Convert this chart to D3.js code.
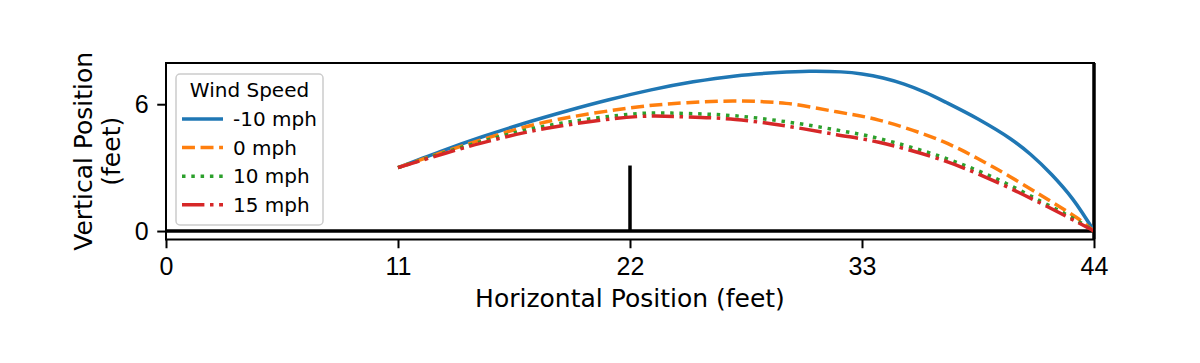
<!DOCTYPE html>
<html>
<head>
<meta charset="utf-8">
<script src="https://d3js.org/d3.v7.min.js"></script>
<style>
    body { margin: 0; background: #fff; }
    svg { font-family: "DejaVu Sans", sans-serif; }
    .axis path { display: none; }
    .axis line { stroke: #000; stroke-width: 2; }
    .axis text { font-size: 25px; fill: #000; }
</style>
</head>
<body>
<svg id="chart" width="1200" height="363"></svg>
<script>
    // wind speeds shown in the legend
    var windLabels = ["-10 mph", "0 mph", "10 mph", "15 mph"];
    var xTicks = [0, 11, 22, 33, 44];
    var yTicks = [0, 6];

    // trajectories (feet)
    var xMinus10 = [11, 13, 15, 17, 19, 21, 23, 25, 27, 29, 30.5, 32, 33, 34, 35, 36, 37, 38.5, 40, 41, 42, 43, 44];
    var yMinus10 = [3.0, 3.76, 4.46, 5.10, 5.68, 6.21, 6.68, 7.06, 7.34, 7.50, 7.56, 7.53, 7.43, 7.24, 6.95, 6.56, 6.08, 5.3, 4.39, 3.62, 2.66, 1.5, 0];

    var x0 = [11, 14.9, 18.05, 22.45, 24.7, 27, 29.4, 31.8, 33.8, 36.8, 39.2, 41.5, 43.15, 44];
    var y0 = [3.0, 4.3, 5.17, 5.88, 6.07, 6.15, 6.04, 5.64, 5.25, 4.25, 3.04, 1.68, 0.65, 0];

    var x10 = [11, 14.9, 18.05, 22.45, 24.7, 27, 29.4, 31.8, 33.8, 36.8, 39.2, 41.5, 43.15, 44];
    var y10 = [3.0, 4.22, 4.98, 5.56, 5.56, 5.45, 5.17, 4.78, 4.38, 3.5, 2.55, 1.4, 0.52, 0];

    var x15 = [11, 14.9, 18.05, 22.45, 24.7, 27, 29.4, 31.8, 33.8, 36.8, 39.2, 41.5, 43.15, 44];
    var y15 = [3.0, 4.15, 4.86, 5.42, 5.4, 5.28, 4.97, 4.56, 4.2, 3.36, 2.4, 1.3, 0.45, 0];

    var netX = 22, netHeight = 3.1, wallX = 44;

    var colors = ["#1f77b4", "#ff7f0e", "#2ca02c", "#d62728"];
    var dashes = [null, "12.95,5.6", "3.5,5.8", "22.4,5.6,3.5,5.6"];

    var series = [
        {label: windLabels[0], xs: xMinus10, ys: yMinus10},
        {label: windLabels[1], xs: x0, ys: y0},
        {label: windLabels[2], xs: x10, ys: y10},
        {label: windLabels[3], xs: x15, ys: y15}
    ];

    var x = d3.scaleLinear().domain([0, 44]).range([166, 1094]);
    var y = d3.scaleLinear().domain([-0.4, 7.95]).range([239.5, 63]);

    var svg = d3.select("#chart");

    // x axis
    svg.append("g")
        .attr("class", "axis")
        .attr("transform", "translate(0," + y.range()[0] + ")")
        .call(d3.axisBottom(x).tickValues(xTicks).tickSize(8.75).tickPadding(8.5).tickFormat(d3.format("d")));

    // y axis
    svg.append("g")
        .attr("class", "axis")
        .attr("transform", "translate(" + x.range()[0] + ",0)")
        .call(d3.axisLeft(y).tickValues(yTicks).tickSize(8.75).tickPadding(8.5).tickFormat(d3.format("d")));

    // floor, net, wall
    svg.append("line")
        .attr("x1", x(0)).attr("x2", x(44))
        .attr("y1", y(0)).attr("y2", y(0))
        .attr("stroke", "#000").attr("stroke-width", 3.5);
    svg.append("line")
        .attr("x1", x(netX)).attr("x2", x(netX))
        .attr("y1", y(0)).attr("y2", y(netHeight))
        .attr("stroke", "#000").attr("stroke-width", 3.5);
    svg.append("line")
        .attr("x1", x(wallX)).attr("x2", x(wallX))
        .attr("y1", y.range()[0]).attr("y2", y.range()[1])
        .attr("stroke", "#000").attr("stroke-width", 3.5);

    var line = d3.line()
        .x(function(d) { return x(d[0]); })
        .y(function(d) { return y(d[1]); })
        .curve(d3.curveCatmullRom.alpha(0.5));

    series.forEach(function(s, i) {
        svg.append("path")
            .datum(d3.zip(s.xs, s.ys))
            .attr("d", line)
            .attr("fill", "none")
            .attr("stroke", colors[i])
            .attr("stroke-width", 3.5)
            .attr("stroke-dasharray", dashes[i]);
    });

    // frame
    svg.append("rect")
        .attr("x", x.range()[0])
        .attr("y", y.range()[1])
        .attr("width", x.range()[1] - x.range()[0])
        .attr("height", y.range()[0] - y.range()[1])
        .attr("fill", "none")
        .attr("stroke", "#000")
        .attr("stroke-width", 2);

    // axis labels
    svg.append("text")
        .attr("x", (x.range()[0] + x.range()[1]) / 2)
        .attr("y", 307)
        .attr("text-anchor", "middle")
        .style("font-size", "25px")
        .text("Horizontal Position (feet)");

    var yl = svg.append("text")
        .attr("transform", "translate(0," + (y.range()[0] + y.range()[1]) / 2 + ") rotate(-90)")
        .attr("text-anchor", "middle")
        .style("font-size", "25px");
    yl.append("tspan").attr("x", 0).attr("y", 92).text("Vertical Position");
    yl.append("tspan").attr("x", 0).attr("y", 120).text("(feet)");

    // legend
    var legend = svg.append("g");
    legend.append("rect")
        .attr("x", 176).attr("y", 74)
        .attr("width", 147).attr("height", 151)
        .attr("rx", 4)
        .attr("fill", "#fff").attr("fill-opacity", 0.8)
        .attr("stroke", "#cccccc").attr("stroke-width", 1.5);
    legend.append("text")
        .attr("x", 249.5).attr("y", 97)
        .attr("text-anchor", "middle")
        .style("font-size", "20px")
        .text("Wind Speed");
    series.forEach(function(s, i) {
        var by = 126 + i * 28.6;
        legend.append("line")
            .attr("x1", 182).attr("x2", 223)
            .attr("y1", by - 7).attr("y2", by - 7)
            .attr("stroke", colors[i])
            .attr("stroke-width", 3.5)
            .attr("stroke-dasharray", dashes[i]);
        legend.append("text")
            .attr("x", 233).attr("y", by)
            .style("font-size", "20px")
            .text(s.label);
    });
</script>
</body>
</html>
